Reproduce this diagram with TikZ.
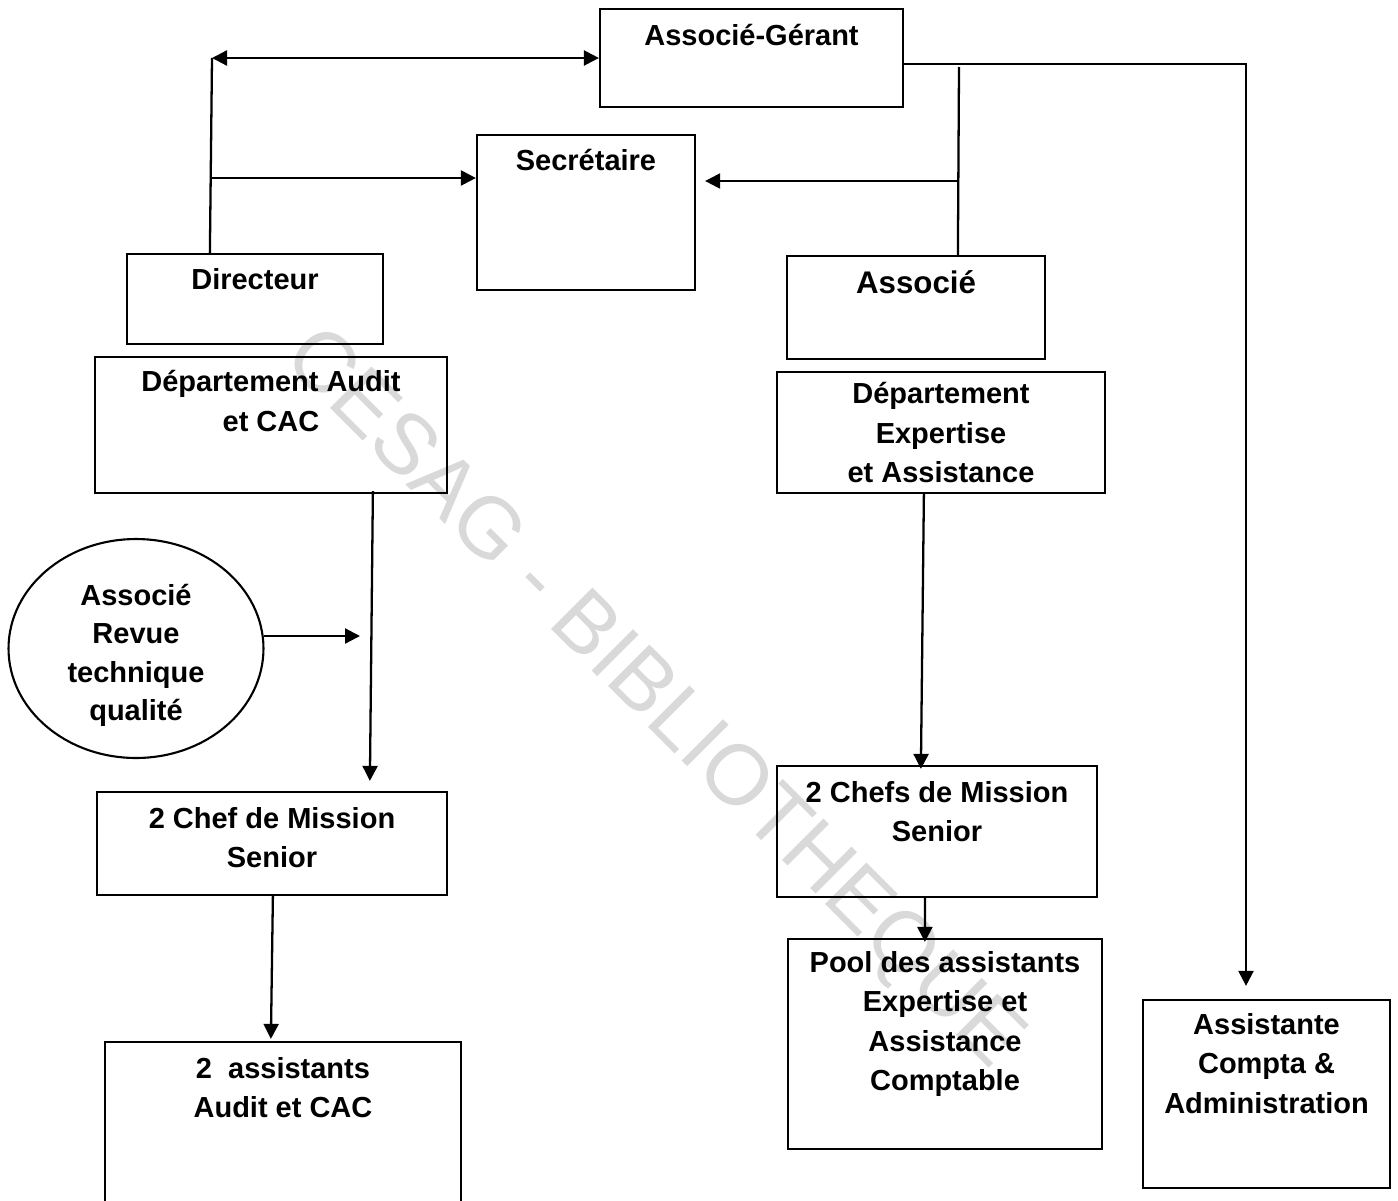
\documentclass[tikz,border=0pt]{standalone}
\usepackage{fontspec}
\setmainfont{Liberation Sans}
\usetikzlibrary{positioning,shapes.geometric,arrows.meta,calc}

\tikzstyle{orgbox} = [rectangle, draw=black, line width=1.3pt, inner sep=0pt]
\tikzstyle{orgoval} = [ellipse, draw=black, line width=1.2pt, inner sep=0pt]
\tikzstyle{lbl} = [align=center, inner sep=0pt,
                   font=\fontsize{16.5}{22.3}\selectfont\bfseries]
\tikzstyle{link} = [line width=1.3pt]
\tikzstyle{arrow} = [line width=1.3pt, -{Triangle[length=0.3cm,width=0.3cm]}]
\tikzstyle{dblarrow} = [line width=1.3pt,
                        {Triangle[length=0.3cm,width=0.3cm]}-{Triangle[length=0.3cm,width=0.3cm]}]
\tikzstyle{watermark} = [inner sep=0pt, rotate=-45, text=gray!30,
                         font=\fontsize{48.5}{48.5}\selectfont]

\begin{document}
\begin{tikzpicture}[x=0.02cm, y=-0.02cm]
		\useasboundingbox (0,0) rectangle (1398,1200);

		% Watermark
		\node[watermark] (wm) at (652,700) {CESAG - BIBLIOTHEQUE};

		% Top level
		\node[orgbox, minimum width=6.06cm, minimum height=1.96cm] (ag) at (751.5,58) {};
		\node[lbl, below=0.33cm of ag.north] (agt) {Associé-Gérant};

		\node[orgbox, minimum width=4.36cm, minimum height=3.10cm] (sec) at (586,212.5) {};
		\node[lbl, below=0.31cm of sec.north] (sect) {Secrétaire};

		\node[orgbox, minimum width=5.12cm, minimum height=1.80cm] (dir) at (255,299) {};
		\node[lbl, below=0.31cm of dir.north] (dirt) {Directeur};

		\node[orgbox, minimum width=5.16cm, minimum height=2.06cm] (asc) at (916,307.5) {};
		\node[lbl, font=\fontsize{17.8}{22.3}\selectfont\bfseries,
		      below=0.30cm of asc.north] (asct) {Associé};

		% Audit department
		\node[orgbox, minimum width=7.04cm, minimum height=2.72cm] (dpa) at (271,425) {};
		\node[lbl, below=0.29cm of dpa.north] (dpat) {Département Audit\\et CAC};

		\node[orgoval, minimum width=5.10cm, minimum height=4.38cm] (rev) at (136,648.5) {};
		\node[lbl, font=\fontsize{16.5}{21.9}\selectfont\bfseries,
		      below=0.91cm of rev.north] (revt) {Associé\\Revue\\technique\\qualité};

		\node[orgbox, minimum width=7.00cm, minimum height=2.06cm] (cml) at (272,843.5) {};
		\node[lbl, below=0.33cm of cml.north] (cmlt) {2 Chef de Mission\\Senior};

		\node[orgbox, minimum width=7.12cm, minimum height=3.46cm] (asa) at (283,1128.5) {};
		\node[lbl, below=0.33cm of asa.north] (asat) {2\ \ assistants\\Audit et CAC};

		% Expertise department
		\node[orgbox, minimum width=6.56cm, minimum height=2.42cm] (dpe) at (941,432.5) {};
		\node[lbl, below=0.23cm of dpe.north] (dpet) {Département\\Expertise\\et Assistance};

		\node[orgbox, minimum width=6.40cm, minimum height=2.62cm] (cmr) at (937,831.5) {};
		\node[lbl, below=0.33cm of cmr.north] (cmrt) {2 Chefs de Mission\\Senior};

		\node[orgbox, minimum width=6.28cm, minimum height=4.20cm] (pool) at (945,1044) {};
		\node[lbl, below=0.27cm of pool.north] (poolt) {Pool des assistants\\Expertise et\\Assistance\\Comptable};

		% Administration
		\node[orgbox, minimum width=4.94cm, minimum height=3.76cm] (acad) at (1266.5,1094) {};
		\node[lbl, below=0.29cm of acad.north] (acadt) {Assistante\\Compta \&\\Administration};

		% Arrows
		\coordinate (dirup) at (212,58);
		\draw[link] ($(dir.north west)+(84,0)$) -- (dirup);
		\draw[dblarrow] (dirup) -- (dirup -| ag.west);

		\coordinate (dirsec) at (210,178);
		\draw[arrow] (dirsec) -- (dirsec -| sec.west);

		\coordinate (ascup) at (959,67);
		\draw[link] ($(asc.north west)+(172,0)$) -- (ascup);
		\coordinate (ascsec) at (957,181);
		\draw[arrow] (ascsec) -- ($(ascsec -| sec.east)+(9,0)$);

		\coordinate (agright) at (1246,64);
		\draw[arrow] (ag.east |- agright) -- (agright) -- ($(agright |- acad.north)+(0,-13)$);

		\draw[arrow] ($(dpa.south west)+(279,-3)$) -- ($(cml.north west)+(274,-10)$);
		\coordinate (revtip) at (360,636);
		\draw[arrow] ($(rev.east |- revtip)+(-1,0)$) -- (revtip);
		\draw[arrow] ($(cml.south west)+(177,0)$) -- ($(asa.north west)+(167,-2)$);

		\draw[arrow] ($(dpe.south west)+(148,0)$) -- ($(cmr.north west)+(145,4)$);
		\draw[arrow] ($(cmr.south west)+(149,0)$) -- ($(pool.north west)+(138,4)$);
	\end{tikzpicture}
\end{document}
